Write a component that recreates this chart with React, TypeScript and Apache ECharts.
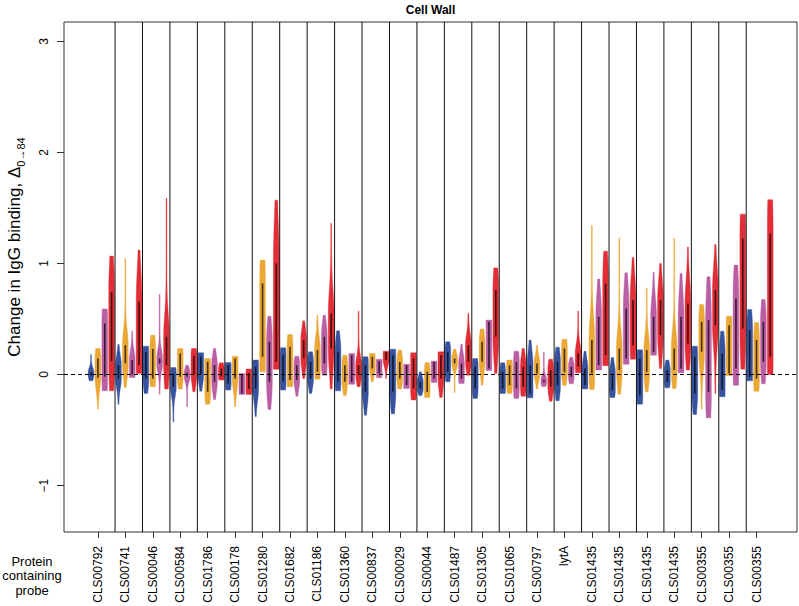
import React, { useEffect, useRef } from 'react';
import * as echarts from 'echarts';

// Probe labels (one per group of four violins)
const probeLabels = [
  'CLS00792', 'CLS00741', 'CLS00046', 'CLS00584', 'CLS01786', 'CLS00178', 'CLS01280',
  'CLS01682', 'CLS01186', 'CLS01360', 'CLS00837', 'CLS00029', 'CLS00044', 'CLS01487',
  'CLS01305', 'CLS01065', 'CLS00797', 'lytA', 'CLS01435', 'CLS01435', 'CLS01435',
  'CLS01435', 'CLS00355', 'CLS00355', 'CLS00355',
];

// Per-violin statistics: [min, q1, q3, max]
const blueStats = [
  [-0.057, -0.01, 0.02, 0.18], [-0.267, -0.036, 0.084, 0.27], [-0.17, -0.036, 0.2, 0.255],
  [-0.426, -0.11, 0.01, 0.063], [-0.15, 0, 0.16, 0.195], [-0.14, -0.08, 0.084, 0.108],
  [-0.378, -0.126, 0.07, 0.13], [-0.14, -0.066, 0.174, 0.24], [-0.17, -0.036, 0.114, 0.204],
  [-0.147, -0.066, 0.204, 0.393], [-0.366, -0.156, 0.084, 0.16], [-0.354, -0.156, 0.174, 0.228],
  [-0.19, -0.126, -0.066, 0.024], [-0.066, 0.024, 0.204, 0.294], [-0.216, -0.126, 0.07, 0.144],
  [-0.17, -0.126, 0.024, 0.105], [-0.21, -0.17, 0.084, 0.31], [-0.237, -0.096, 0.114, 0.246],
  [-0.13, -0.096, 0.054, 0.21], [-0.207, -0.14, 0.01, 0.153], [-0.267, -0.186, 0.144, 0.222],
  [-0.12, -0.066, 0.04, 0.13], [-0.36, -0.17, 0.16, 0.255], [-0.2, -0.14, 0.19, 0.39],
  [-0.057, -0.02, 0.4, 0.586],
];
const orangeStats = [
  [-0.31, -0.03, 0.144, 0.234], [-0.117, 0.1, 0.264, 1.045], [-0.11, -0.036, 0.23, 0.354],
  [-0.13, -0.02, 0.19, 0.234], [-0.267, -0.156, 0.114, 0.144], [-0.29, -0.036, 0.144, 0.165],
  [0.024, 0.16, 0.82, 1.03], [-0.11, -0.05, 0.25, 0.36], [-0.042, 0.024, 0.22, 0.534],
  [-0.19, -0.066, 0.084, 0.174], [-0.066, 0.054, 0.16, 0.19], [-0.13, -0.036, 0.114, 0.22],
  [-0.207, -0.156, 0.024, 0.108], [-0.162, 0.1, 0.144, 0.23], [-0.096, 0.114, 0.294, 0.41],
  [-0.17, -0.096, 0.084, 0.13], [-0.13, 0.01, 0.1, 0.264], [-0.1, 0.024, 0.234, 0.318],
  [-0.135, 0.01, 0.31, 1.34], [-0.177, 0.04, 0.234, 1.23], [-0.156, 0.024, 0.22, 0.78],
  [-0.126, 0.04, 0.234, 1.225], [-0.315, 0.204, 0.474, 0.63], [-0.012, 0.01, 0.444, 0.525],
  [-0.15, -0.036, 0.31, 0.468],
];
const purpleStats = [
  [-0.147, -0.02, 0.46, 0.59], [-0.027, 0.0, 0.13, 0.39], [-0.177, 0.1, 0.144, 0.72],
  [-0.29, -0.02, 0.015, 0.084], [-0.225, -0.066, 0.084, 0.234], [-0.18, -0.17, 0.0, 0.01],
  [-0.315, -0.066, 0.294, 0.525], [-0.195, -0.05, 0.084, 0.165], [-0.006, 0.1, 0.34, 0.534],
  [-0.087, -0.066, 0.174, 0.19], [-0.03, 0.01, 0.12, 0.138], [-0.126, -0.096, 0.084, 0.093],
  [-0.072, -0.036, 0.114, 0.12], [-0.08, -0.036, 0.1, 0.273], [0.036, 0.054, 0.474, 0.49],
  [-0.216, -0.126, 0.114, 0.21], [-0.108, -0.07, -0.05, 0.2], [-0.084, -0.02, 0.07, 0.156],
  [0.04, 0.084, 0.52, 0.86], [0.093, 0.144, 0.595, 0.916], [0.174, 0.204, 0.52, 0.92],
  [0.015, 0.054, 0.52, 0.91], [-0.39, -0.156, 0.49, 0.88], [-0.096, 0.054, 0.685, 0.985],
  [-0.084, 0.114, 0.474, 0.676],
];
const redStats = [
  [-0.147, 0.12, 0.745, 1.066], [0.01, 0.085, 0.655, 1.12], [-0.13, 0.084, 0.34, 1.585],
  [-0.156, 0.0, 0.17, 0.234], [-0.05, -0.02, 0.054, 0.105], [-0.18, -0.13, 0.01, 0.05],
  [0.048, 0.114, 1.0, 1.57], [-0.036, 0.144, 0.31, 0.483], [-0.13, 0.234, 0.55, 1.36],
  [-0.11, 0.0, 0.084, 0.57], [-0.036, 0.13, 0.2, 0.21], [-0.23, -0.126, 0.144, 0.195],
  [-0.207, -0.036, 0.174, 0.204], [-0.006, 0.114, 0.264, 0.55], [0.01, 0.34, 0.76, 0.96],
  [-0.195, -0.11, 0.07, 0.234], [-0.24, -0.11, 0.04, 0.138], [0.015, 0.07, 0.19, 0.57],
  [0.08, 0.174, 0.82, 1.11], [0.138, 0.264, 0.67, 1.054], [0.054, 0.354, 0.67, 1.0],
  [0.04, 0.28, 0.64, 1.147], [-0.17, 0.444, 0.76, 1.17], [0.048, 0.414, 1.225, 1.444],
  [0.0, 0.16, 1.27, 1.574],
];

const yTicks = [-1, 0, 1, 2, 3];
const violinColors = ['#2c4a9a', '#e9a32b', '#b6569f', '#e0222b'];
const FONT = '"Liberation Sans", Arial, Helvetica, sans-serif';

export default function App() {
  const ref = useRef<HTMLDivElement>(null);

  useEffect(() => {
    if (!ref.current) return;
    const chart = echarts.init(ref.current, null, { renderer: 'svg' });
    const statSets = [blueStats, orangeStats, purpleStats, redStats];
    const violinData: number[][] = [];
    probeLabels.forEach((_, g) => {
      statSets.forEach((set, k) => {
        const s = set[g];
        violinData.push([g * 4 + k, s[0], s[1], s[2], s[3], k]);
      });
    });
    const separatorData = probeLabels.slice(1).map((_, j) => [(j + 1) * 4 - 0.5, 0]);
    const labelPos = probeLabels.map((_, g) => g * 4 + 1);

    const option: any = {
      animation: false,
      backgroundColor: '#fff',
      grid: {
        left: 64, right: 2, top: 22, bottom: 74,
        show: true, borderColor: '#333', borderWidth: 1, backgroundColor: 'transparent',
      },
      xAxis: {
        type: 'value', min: -3.94, max: 102.9,
        splitLine: { show: false },
        axisLine: { show: false, onZero: false },
        axisTick: { show: true, customValues: labelPos, length: 6, lineStyle: { color: '#333' } },
        axisLabel: {
          customValues: labelPos, rotate: 90, margin: 14, fontSize: 12, color: '#000', fontFamily: FONT,
          formatter: (v: number) => probeLabels[Math.round((v - 1) / 4)] ?? '',
        },
      },
      yAxis: {
        type: 'value', min: -1.418, max: 3.174,
        splitLine: { show: false },
        axisLine: { show: false, onZero: false },
        axisTick: { show: true, customValues: yTicks, length: 7, lineStyle: { color: '#333' } },
        axisLabel: {
          customValues: yTicks, rotate: 90, margin: 14, fontSize: 12, color: '#000', fontFamily: FONT,
          formatter: (v: number) => (v < 0 ? '\u2212' + Math.abs(v) : String(v)),
        },
      },
      graphic: [
        {
          type: 'text', x: 430.5, y: 10,
          style: { text: 'Cell Wall', fontSize: 12, fontWeight: 'bold', fontFamily: FONT, fill: '#000', align: 'center', verticalAlign: 'middle' },
        },
        {
          type: 'text', x: 32, y: 554,
          style: {
            text: 'Protein\ncontaining\nprobe', fontSize: 13, lineHeight: 14.5, fontFamily: FONT, fill: '#000',
            align: 'center', verticalAlign: 'top',
          },
        },
        {
          type: 'text', x: 14, y: 247, rotation: Math.PI / 2,
          style: {
            text: '{a|Change in IgG binding, \u0394}{b|0\u219284}',
            align: 'center', verticalAlign: 'middle', fill: '#000', fontFamily: FONT,
            rich: {
              a: { fontSize: 17, lineHeight: 24, verticalAlign: 'middle', fontFamily: FONT, fill: '#000' },
              b: { fontSize: 11, lineHeight: 24, verticalAlign: 'bottom', fontFamily: FONT, fill: '#000' },
            },
          },
        },
      ],
      series: [
        {
          type: 'custom',
          name: 'violins',
          data: violinData,
          encode: { x: 0, y: [1, 4] },
          z: 2,
          renderItem: (params: any, api: any) => {
            const i = api.value(0);
            const mn = api.value(1), q1 = api.value(2), q3 = api.value(3), mx = api.value(4);
            const k = api.value(5);
            const half = api.size([1, 0])[0] * 0.42;
            const sc = 0.5 * (q3 - q1) + 0.07 * (mx - mn) + 0.025;
            const N = 48;
            const left: number[][] = [];
            const right: number[][] = [];
            for (let n = 0; n <= N; n++) {
              const v = mn + ((mx - mn) * n) / N;
              const d = v < q1 ? q1 - v : v > q3 ? v - q3 : 0;
              const w = 0.14 + 0.86 * Math.exp(-((d / sc) * (d / sc)));
              const p = api.coord([i, v]);
              left.push([p[0] - half * w, p[1]]);
              right.unshift([p[0] + half * w, p[1]]);
            }
            const top = api.coord([i, q3]);
            const bot = api.coord([i, q1]);
            return {
              type: 'group',
              children: [
                { type: 'polygon', shape: { points: left.concat(right) }, style: { fill: violinColors[k], stroke: violinColors[k], lineWidth: 0.4, opacity: 0.95 } },
                {
                  type: 'rect',
                  shape: { x: top[0] - 0.8, y: top[1], width: 1.6, height: Math.max(bot[1] - top[1], 1.2) },
                  style: { fill: 'rgba(0,0,0,0.72)' },
                },
              ],
            };
          },
        },
        {
          type: 'custom',
          name: 'separators',
          data: separatorData,
          encode: { x: 0, y: 1 },
          z: 3,
          renderItem: (params: any, api: any) => {
            const x = api.coord([api.value(0), 0])[0];
            const cs = params.coordSys;
            return {
              type: 'line',
              shape: { x1: x, y1: cs.y, x2: x, y2: cs.y + cs.height },
              style: { stroke: '#111', lineWidth: 1 },
            };
          },
        },
        {
          type: 'custom',
          name: 'zero',
          data: [[0, 0]],
          encode: { x: 0, y: 1 },
          z: 4,
          renderItem: (params: any, api: any) => {
            const y = api.coord([0, api.value(1)])[1];
            const cs = params.coordSys;
            return {
              type: 'line',
              shape: { x1: cs.x, y1: y, x2: cs.x + cs.width, y2: y },
              style: { stroke: '#000', lineWidth: 1, lineDash: [4, 3] },
            };
          },
        },
      ],
    };
    chart.setOption(option);
    return () => chart.dispose();
  }, []);

  return <div ref={ref} style={{ position: 'fixed', left: 0, top: 0, width: 799, height: 606 }} />;
}
